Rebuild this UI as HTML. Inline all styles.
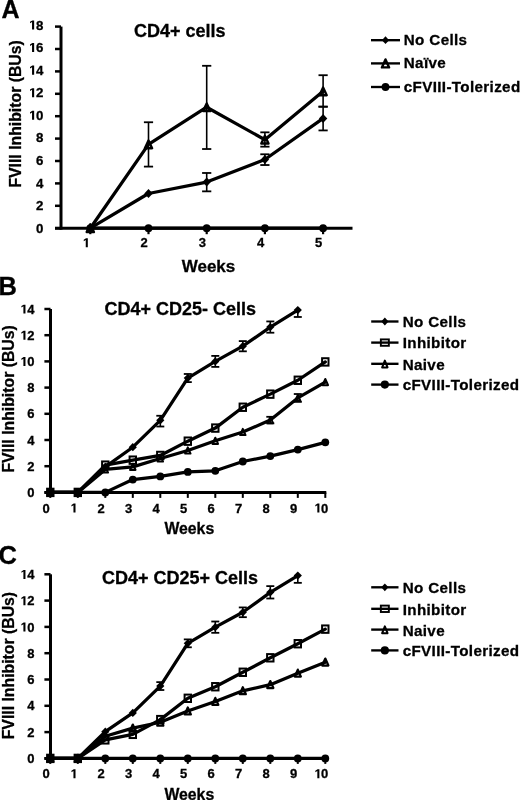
<!DOCTYPE html>
<html><head><meta charset="utf-8"><style>
html,body{margin:0;padding:0;background:#fff;width:520px;height:800px;overflow:hidden}
svg{display:block;will-change:transform}
text{font-family:"Liberation Sans", sans-serif;font-weight:bold;fill:#000;stroke:#000;stroke-width:0.3px}
</style></head><body>
<svg width="520" height="800" viewBox="0 0 520 800">
<text x="1.40" y="17.80" font-size="25" text-anchor="start" >A</text>
<text x="134.00" y="37.00" font-size="18" text-anchor="start" >CD4+ cells</text>
<text transform="translate(20.5,187.6) rotate(-90)" font-size="15.8">FVIII Inhibitor (BUs)</text>
<line x1="61.00" y1="26.60" x2="61.00" y2="229.70" stroke="#000" stroke-width="3.0" stroke-linecap="butt"/>
<line x1="55.00" y1="228.20" x2="61.00" y2="228.20" stroke="#000" stroke-width="2.5" stroke-linecap="butt"/>
<text x="35.90" y="232.75" font-size="13.3" text-anchor="start" >0</text>
<line x1="55.00" y1="205.80" x2="61.00" y2="205.80" stroke="#000" stroke-width="2.5" stroke-linecap="butt"/>
<text x="35.90" y="210.17" font-size="13.3" text-anchor="start" >2</text>
<line x1="55.00" y1="183.40" x2="61.00" y2="183.40" stroke="#000" stroke-width="2.5" stroke-linecap="butt"/>
<text x="35.90" y="187.59" font-size="13.3" text-anchor="start" >4</text>
<line x1="55.00" y1="161.00" x2="61.00" y2="161.00" stroke="#000" stroke-width="2.5" stroke-linecap="butt"/>
<text x="35.90" y="165.01" font-size="13.3" text-anchor="start" >6</text>
<line x1="55.00" y1="138.60" x2="61.00" y2="138.60" stroke="#000" stroke-width="2.5" stroke-linecap="butt"/>
<text x="35.90" y="142.43" font-size="13.3" text-anchor="start" >8</text>
<line x1="55.00" y1="116.20" x2="61.00" y2="116.20" stroke="#000" stroke-width="2.5" stroke-linecap="butt"/>
<path transform="translate(28.51,119.85) scale(0.00649,-0.00649)" d="M545 0L545 1150L230 955L230 1180L585 1409L870 1409L870 0Z"/>
<text x="35.90" y="119.85" font-size="13.3" text-anchor="start" >0</text>
<line x1="55.00" y1="93.80" x2="61.00" y2="93.80" stroke="#000" stroke-width="2.5" stroke-linecap="butt"/>
<path transform="translate(28.51,97.27) scale(0.00649,-0.00649)" d="M545 0L545 1150L230 955L230 1180L585 1409L870 1409L870 0Z"/>
<text x="35.90" y="97.27" font-size="13.3" text-anchor="start" >2</text>
<line x1="55.00" y1="71.40" x2="61.00" y2="71.40" stroke="#000" stroke-width="2.5" stroke-linecap="butt"/>
<path transform="translate(28.51,74.69) scale(0.00649,-0.00649)" d="M545 0L545 1150L230 955L230 1180L585 1409L870 1409L870 0Z"/>
<text x="35.90" y="74.69" font-size="13.3" text-anchor="start" >4</text>
<line x1="55.00" y1="49.00" x2="61.00" y2="49.00" stroke="#000" stroke-width="2.5" stroke-linecap="butt"/>
<path transform="translate(28.51,52.11) scale(0.00649,-0.00649)" d="M545 0L545 1150L230 955L230 1180L585 1409L870 1409L870 0Z"/>
<text x="35.90" y="52.11" font-size="13.3" text-anchor="start" >6</text>
<line x1="55.00" y1="26.60" x2="61.00" y2="26.60" stroke="#000" stroke-width="2.5" stroke-linecap="butt"/>
<path transform="translate(28.51,29.53) scale(0.00649,-0.00649)" d="M545 0L545 1150L230 955L230 1180L585 1409L870 1409L870 0Z"/>
<text x="35.90" y="29.53" font-size="13.3" text-anchor="start" >8</text>
<line x1="55.00" y1="228.20" x2="352.50" y2="228.20" stroke="#000" stroke-width="3.0" stroke-linecap="butt"/>
<line x1="90.30" y1="228.20" x2="90.30" y2="234.20" stroke="#000" stroke-width="2.2" stroke-linecap="butt"/>
<path transform="translate(82.29,247.30) scale(0.00635,-0.00635)" d="M545 0L545 1150L230 955L230 1180L585 1409L870 1409L870 0Z"/>
<line x1="148.50" y1="228.20" x2="148.50" y2="234.20" stroke="#000" stroke-width="2.2" stroke-linecap="butt"/>
<text x="140.49" y="247.30" font-size="13" text-anchor="start" >2</text>
<line x1="206.70" y1="228.20" x2="206.70" y2="234.20" stroke="#000" stroke-width="2.2" stroke-linecap="butt"/>
<text x="198.69" y="247.30" font-size="13" text-anchor="start" >3</text>
<line x1="264.90" y1="228.20" x2="264.90" y2="234.20" stroke="#000" stroke-width="2.2" stroke-linecap="butt"/>
<text x="256.89" y="247.30" font-size="13" text-anchor="start" >4</text>
<line x1="323.10" y1="228.20" x2="323.10" y2="234.20" stroke="#000" stroke-width="2.2" stroke-linecap="butt"/>
<text x="315.09" y="247.30" font-size="13" text-anchor="start" >5</text>
<text x="208.50" y="271.80" font-size="17" text-anchor="middle" >Weeks</text>
<line x1="148.50" y1="122.25" x2="148.50" y2="166.60" stroke="#000" stroke-width="1.6" stroke-linecap="butt"/>
<line x1="143.90" y1="122.25" x2="153.10" y2="122.25" stroke="#000" stroke-width="1.8" stroke-linecap="butt"/>
<line x1="143.90" y1="166.60" x2="153.10" y2="166.60" stroke="#000" stroke-width="1.8" stroke-linecap="butt"/>
<line x1="206.70" y1="65.80" x2="206.70" y2="149.02" stroke="#000" stroke-width="1.6" stroke-linecap="butt"/>
<line x1="202.10" y1="65.80" x2="211.30" y2="65.80" stroke="#000" stroke-width="1.8" stroke-linecap="butt"/>
<line x1="202.10" y1="149.02" x2="211.30" y2="149.02" stroke="#000" stroke-width="1.8" stroke-linecap="butt"/>
<line x1="264.90" y1="132.33" x2="264.90" y2="146.66" stroke="#000" stroke-width="1.6" stroke-linecap="butt"/>
<line x1="260.30" y1="132.33" x2="269.50" y2="132.33" stroke="#000" stroke-width="1.8" stroke-linecap="butt"/>
<line x1="260.30" y1="146.66" x2="269.50" y2="146.66" stroke="#000" stroke-width="1.8" stroke-linecap="butt"/>
<line x1="323.10" y1="75.21" x2="323.10" y2="106.68" stroke="#000" stroke-width="1.6" stroke-linecap="butt"/>
<line x1="318.50" y1="75.21" x2="327.70" y2="75.21" stroke="#000" stroke-width="1.8" stroke-linecap="butt"/>
<line x1="318.50" y1="106.68" x2="327.70" y2="106.68" stroke="#000" stroke-width="1.8" stroke-linecap="butt"/>
<line x1="206.70" y1="172.98" x2="206.70" y2="191.35" stroke="#000" stroke-width="1.6" stroke-linecap="butt"/>
<line x1="202.10" y1="172.98" x2="211.30" y2="172.98" stroke="#000" stroke-width="1.8" stroke-linecap="butt"/>
<line x1="202.10" y1="191.35" x2="211.30" y2="191.35" stroke="#000" stroke-width="1.8" stroke-linecap="butt"/>
<line x1="264.90" y1="154.28" x2="264.90" y2="165.03" stroke="#000" stroke-width="1.6" stroke-linecap="butt"/>
<line x1="260.30" y1="154.28" x2="269.50" y2="154.28" stroke="#000" stroke-width="1.8" stroke-linecap="butt"/>
<line x1="260.30" y1="165.03" x2="269.50" y2="165.03" stroke="#000" stroke-width="1.8" stroke-linecap="butt"/>
<line x1="323.10" y1="106.68" x2="323.10" y2="130.42" stroke="#000" stroke-width="1.6" stroke-linecap="butt"/>
<line x1="318.50" y1="106.68" x2="327.70" y2="106.68" stroke="#000" stroke-width="1.8" stroke-linecap="butt"/>
<line x1="318.50" y1="130.42" x2="327.70" y2="130.42" stroke="#000" stroke-width="1.8" stroke-linecap="butt"/>
<polyline points="90.30,228.20 148.50,228.20 206.70,228.20 264.90,228.20 323.10,228.20" fill="none" stroke="#000" stroke-width="3.25" stroke-linejoin="round" stroke-linecap="round"/>
<polyline points="90.30,228.20 148.50,193.48 206.70,182.06 264.90,159.54 323.10,118.44" fill="none" stroke="#000" stroke-width="3.25" stroke-linejoin="round" stroke-linecap="round"/>
<polyline points="90.30,228.20 148.50,144.42 206.70,107.24 264.90,139.72 323.10,91.34" fill="none" stroke="#000" stroke-width="3.25" stroke-linejoin="round" stroke-linecap="round"/>
<circle cx="90.30" cy="228.20" r="3.90" fill="#000"/>
<circle cx="148.50" cy="228.20" r="3.90" fill="#000"/>
<circle cx="206.70" cy="228.20" r="3.90" fill="#000"/>
<circle cx="264.90" cy="228.20" r="3.90" fill="#000"/>
<circle cx="323.10" cy="228.20" r="3.90" fill="#000"/>
<path d="M90.30 223.70L94.50 228.20L90.30 232.70L86.10 228.20Z" fill="#000"/>
<path d="M148.50 188.98L152.70 193.48L148.50 197.98L144.30 193.48Z" fill="#000"/>
<path d="M206.70 177.56L210.90 182.06L206.70 186.56L202.50 182.06Z" fill="#000"/>
<path d="M264.90 155.04L269.10 159.54L264.90 164.04L260.70 159.54Z" fill="#000"/>
<path d="M323.10 113.94L327.30 118.44L323.10 122.94L318.90 118.44Z" fill="#000"/>
<path d="M90.30 224.35L93.90 232.05L86.70 232.05Z" fill="none" stroke="#000" stroke-width="2.4" stroke-linejoin="round"/>
<path d="M148.50 140.57L152.10 148.27L144.90 148.27Z" fill="none" stroke="#000" stroke-width="2.4" stroke-linejoin="round"/>
<path d="M206.70 103.39L210.30 111.09L203.10 111.09Z" fill="none" stroke="#000" stroke-width="2.4" stroke-linejoin="round"/>
<path d="M264.90 135.87L268.50 143.57L261.30 143.57Z" fill="none" stroke="#000" stroke-width="2.4" stroke-linejoin="round"/>
<path d="M323.10 87.49L326.70 95.19L319.50 95.19Z" fill="none" stroke="#000" stroke-width="2.4" stroke-linejoin="round"/>
<line x1="371.00" y1="40.20" x2="400.00" y2="40.20" stroke="#000" stroke-width="2.35" stroke-linecap="butt"/>
<path d="M385.50 36.30L389.10 40.20L385.50 44.10L381.90 40.20Z" fill="#000"/>
<text x="403.80" y="44.94" font-size="15.2" text-anchor="start" letter-spacing="0.35">No Cells</text>
<line x1="371.00" y1="63.40" x2="400.00" y2="63.40" stroke="#000" stroke-width="2.35" stroke-linecap="butt"/>
<path d="M385.50 59.40L389.10 67.40L381.90 67.40Z" fill="none" stroke="#000" stroke-width="2.4" stroke-linejoin="round"/>
<text x="403.80" y="68.14" font-size="15.2" text-anchor="start" letter-spacing="0.35">Na&#239;ve</text>
<line x1="371.00" y1="87.00" x2="400.00" y2="87.00" stroke="#000" stroke-width="2.35" stroke-linecap="butt"/>
<circle cx="385.50" cy="87.00" r="3.90" fill="#000"/>
<text x="403.80" y="91.74" font-size="15.2" text-anchor="start" letter-spacing="0.35">cFVIII-Tolerized</text>
<text x="-1.50" y="295.00" font-size="25.5" text-anchor="start" >B</text>
<text x="104.50" y="314.80" font-size="18" text-anchor="start" >CD4+ CD25- Cells</text>
<text transform="translate(13.6,472.6) rotate(-90)" font-size="15.8">FVIII Inhibitor (BUs)</text>
<line x1="50.50" y1="309.00" x2="50.50" y2="493.90" stroke="#000" stroke-width="3.0" stroke-linecap="butt"/>
<line x1="44.40" y1="492.40" x2="50.50" y2="492.40" stroke="#000" stroke-width="2.5" stroke-linecap="butt"/>
<text x="27.17" y="497.00" font-size="13" text-anchor="start" >0</text>
<line x1="44.40" y1="466.20" x2="50.50" y2="466.20" stroke="#000" stroke-width="2.5" stroke-linecap="butt"/>
<text x="27.17" y="470.80" font-size="13" text-anchor="start" >2</text>
<line x1="44.40" y1="440.00" x2="50.50" y2="440.00" stroke="#000" stroke-width="2.5" stroke-linecap="butt"/>
<text x="27.17" y="444.60" font-size="13" text-anchor="start" >4</text>
<line x1="44.40" y1="413.80" x2="50.50" y2="413.80" stroke="#000" stroke-width="2.5" stroke-linecap="butt"/>
<text x="27.17" y="418.40" font-size="13" text-anchor="start" >6</text>
<line x1="44.40" y1="387.60" x2="50.50" y2="387.60" stroke="#000" stroke-width="2.5" stroke-linecap="butt"/>
<text x="27.17" y="392.20" font-size="13" text-anchor="start" >8</text>
<line x1="44.40" y1="361.40" x2="50.50" y2="361.40" stroke="#000" stroke-width="2.5" stroke-linecap="butt"/>
<path transform="translate(19.94,366.00) scale(0.00635,-0.00635)" d="M545 0L545 1150L230 955L230 1180L585 1409L870 1409L870 0Z"/>
<text x="27.17" y="366.00" font-size="13" text-anchor="start" >0</text>
<line x1="44.40" y1="335.20" x2="50.50" y2="335.20" stroke="#000" stroke-width="2.5" stroke-linecap="butt"/>
<path transform="translate(19.94,339.80) scale(0.00635,-0.00635)" d="M545 0L545 1150L230 955L230 1180L585 1409L870 1409L870 0Z"/>
<text x="27.17" y="339.80" font-size="13" text-anchor="start" >2</text>
<line x1="44.40" y1="309.00" x2="50.50" y2="309.00" stroke="#000" stroke-width="2.5" stroke-linecap="butt"/>
<path transform="translate(19.94,313.60) scale(0.00635,-0.00635)" d="M545 0L545 1150L230 955L230 1180L585 1409L870 1409L870 0Z"/>
<text x="27.17" y="313.60" font-size="13" text-anchor="start" >4</text>
<line x1="44.40" y1="492.40" x2="326.30" y2="492.40" stroke="#000" stroke-width="3.0" stroke-linecap="butt"/>
<line x1="50.30" y1="492.40" x2="50.30" y2="497.90" stroke="#000" stroke-width="2" stroke-linecap="butt"/>
<text x="42.49" y="512.50" font-size="13" text-anchor="start" >0</text>
<line x1="77.80" y1="492.40" x2="77.80" y2="497.90" stroke="#000" stroke-width="2" stroke-linecap="butt"/>
<path transform="translate(69.99,512.50) scale(0.00635,-0.00635)" d="M545 0L545 1150L230 955L230 1180L585 1409L870 1409L870 0Z"/>
<line x1="105.30" y1="492.40" x2="105.30" y2="497.90" stroke="#000" stroke-width="2" stroke-linecap="butt"/>
<text x="97.49" y="512.50" font-size="13" text-anchor="start" >2</text>
<line x1="132.80" y1="492.40" x2="132.80" y2="497.90" stroke="#000" stroke-width="2" stroke-linecap="butt"/>
<text x="124.99" y="512.50" font-size="13" text-anchor="start" >3</text>
<line x1="160.30" y1="492.40" x2="160.30" y2="497.90" stroke="#000" stroke-width="2" stroke-linecap="butt"/>
<text x="152.49" y="512.50" font-size="13" text-anchor="start" >4</text>
<line x1="187.80" y1="492.40" x2="187.80" y2="497.90" stroke="#000" stroke-width="2" stroke-linecap="butt"/>
<text x="179.99" y="512.50" font-size="13" text-anchor="start" >5</text>
<line x1="215.30" y1="492.40" x2="215.30" y2="497.90" stroke="#000" stroke-width="2" stroke-linecap="butt"/>
<text x="207.49" y="512.50" font-size="13" text-anchor="start" >6</text>
<line x1="242.80" y1="492.40" x2="242.80" y2="497.90" stroke="#000" stroke-width="2" stroke-linecap="butt"/>
<text x="234.99" y="512.50" font-size="13" text-anchor="start" >7</text>
<line x1="270.30" y1="492.40" x2="270.30" y2="497.90" stroke="#000" stroke-width="2" stroke-linecap="butt"/>
<text x="262.49" y="512.50" font-size="13" text-anchor="start" >8</text>
<line x1="297.80" y1="492.40" x2="297.80" y2="497.90" stroke="#000" stroke-width="2" stroke-linecap="butt"/>
<text x="289.99" y="512.50" font-size="13" text-anchor="start" >9</text>
<line x1="325.30" y1="492.40" x2="325.30" y2="497.90" stroke="#000" stroke-width="2" stroke-linecap="butt"/>
<path transform="translate(313.87,512.50) scale(0.00635,-0.00635)" d="M545 0L545 1150L230 955L230 1180L585 1409L870 1409L870 0Z"/>
<text x="321.10" y="512.50" font-size="13" text-anchor="start" >0</text>
<text x="189.30" y="534.20" font-size="15.8" text-anchor="middle" >Weeks</text>
<line x1="160.30" y1="415.76" x2="160.30" y2="426.51" stroke="#000" stroke-width="1.6" stroke-linecap="butt"/>
<line x1="156.30" y1="415.76" x2="164.30" y2="415.76" stroke="#000" stroke-width="1.8" stroke-linecap="butt"/>
<line x1="156.30" y1="426.51" x2="164.30" y2="426.51" stroke="#000" stroke-width="1.8" stroke-linecap="butt"/>
<line x1="187.80" y1="373.98" x2="187.80" y2="382.10" stroke="#000" stroke-width="1.6" stroke-linecap="butt"/>
<line x1="183.80" y1="373.98" x2="191.80" y2="373.98" stroke="#000" stroke-width="1.8" stroke-linecap="butt"/>
<line x1="183.80" y1="382.10" x2="191.80" y2="382.10" stroke="#000" stroke-width="1.8" stroke-linecap="butt"/>
<line x1="215.30" y1="355.90" x2="215.30" y2="366.90" stroke="#000" stroke-width="1.6" stroke-linecap="butt"/>
<line x1="211.30" y1="355.90" x2="219.30" y2="355.90" stroke="#000" stroke-width="1.8" stroke-linecap="butt"/>
<line x1="211.30" y1="366.90" x2="219.30" y2="366.90" stroke="#000" stroke-width="1.8" stroke-linecap="butt"/>
<line x1="242.80" y1="341.09" x2="242.80" y2="351.31" stroke="#000" stroke-width="1.6" stroke-linecap="butt"/>
<line x1="238.80" y1="341.09" x2="246.80" y2="341.09" stroke="#000" stroke-width="1.8" stroke-linecap="butt"/>
<line x1="238.80" y1="351.31" x2="246.80" y2="351.31" stroke="#000" stroke-width="1.8" stroke-linecap="butt"/>
<line x1="270.30" y1="321.44" x2="270.30" y2="332.71" stroke="#000" stroke-width="1.6" stroke-linecap="butt"/>
<line x1="266.30" y1="321.44" x2="274.30" y2="321.44" stroke="#000" stroke-width="1.8" stroke-linecap="butt"/>
<line x1="266.30" y1="332.71" x2="274.30" y2="332.71" stroke="#000" stroke-width="1.8" stroke-linecap="butt"/>
<line x1="297.80" y1="309.00" x2="297.80" y2="316.99" stroke="#000" stroke-width="1.6" stroke-linecap="butt"/>
<line x1="293.80" y1="316.99" x2="301.80" y2="316.99" stroke="#000" stroke-width="1.8" stroke-linecap="butt"/>
<line x1="270.30" y1="416.81" x2="270.30" y2="423.36" stroke="#000" stroke-width="1.6" stroke-linecap="butt"/>
<line x1="266.30" y1="416.81" x2="274.30" y2="416.81" stroke="#000" stroke-width="1.8" stroke-linecap="butt"/>
<line x1="266.30" y1="423.36" x2="274.30" y2="423.36" stroke="#000" stroke-width="1.8" stroke-linecap="butt"/>
<line x1="297.80" y1="394.02" x2="297.80" y2="401.88" stroke="#000" stroke-width="1.6" stroke-linecap="butt"/>
<line x1="293.80" y1="394.02" x2="301.80" y2="394.02" stroke="#000" stroke-width="1.8" stroke-linecap="butt"/>
<line x1="293.80" y1="401.88" x2="301.80" y2="401.88" stroke="#000" stroke-width="1.8" stroke-linecap="butt"/>
<polyline points="50.30,492.40 77.80,492.40 105.30,492.40 132.80,479.56 160.30,476.42 187.80,471.96 215.30,470.78 242.80,461.48 270.30,456.11 297.80,449.56 325.30,442.36" fill="none" stroke="#000" stroke-width="3.25" stroke-linejoin="round" stroke-linecap="round"/>
<polyline points="50.30,492.40 77.80,492.40 105.30,469.47 132.80,466.85 160.30,458.47 187.80,450.48 215.30,440.79 242.80,432.01 270.30,420.09 297.80,397.95 325.30,382.10" fill="none" stroke="#000" stroke-width="3.25" stroke-linejoin="round" stroke-linecap="round"/>
<polyline points="50.30,492.40 77.80,492.40 105.30,465.15 132.80,460.17 160.30,455.46 187.80,441.18 215.30,428.08 242.80,407.25 270.30,394.15 297.80,380.26 325.30,361.92" fill="none" stroke="#000" stroke-width="3.25" stroke-linejoin="round" stroke-linecap="round"/>
<polyline points="50.30,492.40 77.80,492.40 105.30,466.85 132.80,447.20 160.30,420.35 187.80,378.04 215.30,361.40 242.80,346.20 270.30,327.08 297.80,310.05" fill="none" stroke="#000" stroke-width="3.25" stroke-linejoin="round" stroke-linecap="round"/>
<circle cx="50.30" cy="492.40" r="3.90" fill="#000"/>
<circle cx="77.80" cy="492.40" r="3.90" fill="#000"/>
<circle cx="105.30" cy="492.40" r="3.90" fill="#000"/>
<circle cx="132.80" cy="479.56" r="3.90" fill="#000"/>
<circle cx="160.30" cy="476.42" r="3.90" fill="#000"/>
<circle cx="187.80" cy="471.96" r="3.90" fill="#000"/>
<circle cx="215.30" cy="470.78" r="3.90" fill="#000"/>
<circle cx="242.80" cy="461.48" r="3.90" fill="#000"/>
<circle cx="270.30" cy="456.11" r="3.90" fill="#000"/>
<circle cx="297.80" cy="449.56" r="3.90" fill="#000"/>
<circle cx="325.30" cy="442.36" r="3.90" fill="#000"/>
<path d="M50.30 489.30L53.05 495.50L47.55 495.50Z" fill="none" stroke="#000" stroke-width="2.0" stroke-linejoin="round"/>
<path d="M77.80 489.30L80.55 495.50L75.05 495.50Z" fill="none" stroke="#000" stroke-width="2.0" stroke-linejoin="round"/>
<path d="M105.30 466.37L108.05 472.57L102.55 472.57Z" fill="none" stroke="#000" stroke-width="2.0" stroke-linejoin="round"/>
<path d="M132.80 463.75L135.55 469.95L130.05 469.95Z" fill="none" stroke="#000" stroke-width="2.0" stroke-linejoin="round"/>
<path d="M160.30 455.37L163.05 461.57L157.55 461.57Z" fill="none" stroke="#000" stroke-width="2.0" stroke-linejoin="round"/>
<path d="M187.80 447.38L190.55 453.58L185.05 453.58Z" fill="none" stroke="#000" stroke-width="2.0" stroke-linejoin="round"/>
<path d="M215.30 437.69L218.05 443.89L212.55 443.89Z" fill="none" stroke="#000" stroke-width="2.0" stroke-linejoin="round"/>
<path d="M242.80 428.91L245.55 435.11L240.05 435.11Z" fill="none" stroke="#000" stroke-width="2.0" stroke-linejoin="round"/>
<path d="M270.30 416.99L273.05 423.19L267.55 423.19Z" fill="none" stroke="#000" stroke-width="2.0" stroke-linejoin="round"/>
<path d="M297.80 394.85L300.55 401.05L295.05 401.05Z" fill="none" stroke="#000" stroke-width="2.0" stroke-linejoin="round"/>
<path d="M325.30 379.00L328.05 385.20L322.55 385.20Z" fill="none" stroke="#000" stroke-width="2.0" stroke-linejoin="round"/>
<rect x="47.10" y="488.70" width="6.40" height="7.40" fill="none" stroke="#000" stroke-width="2"/>
<rect x="74.60" y="488.70" width="6.40" height="7.40" fill="none" stroke="#000" stroke-width="2"/>
<rect x="102.10" y="461.45" width="6.40" height="7.40" fill="none" stroke="#000" stroke-width="2"/>
<rect x="129.60" y="456.47" width="6.40" height="7.40" fill="none" stroke="#000" stroke-width="2"/>
<rect x="157.10" y="451.76" width="6.40" height="7.40" fill="none" stroke="#000" stroke-width="2"/>
<rect x="184.60" y="437.48" width="6.40" height="7.40" fill="none" stroke="#000" stroke-width="2"/>
<rect x="212.10" y="424.38" width="6.40" height="7.40" fill="none" stroke="#000" stroke-width="2"/>
<rect x="239.60" y="403.55" width="6.40" height="7.40" fill="none" stroke="#000" stroke-width="2"/>
<rect x="267.10" y="390.45" width="6.40" height="7.40" fill="none" stroke="#000" stroke-width="2"/>
<rect x="294.60" y="376.56" width="6.40" height="7.40" fill="none" stroke="#000" stroke-width="2"/>
<rect x="322.10" y="358.22" width="6.40" height="7.40" fill="none" stroke="#000" stroke-width="2"/>
<path d="M50.30 488.30L54.40 492.40L50.30 496.50L46.20 492.40Z" fill="#000"/>
<path d="M77.80 488.30L81.90 492.40L77.80 496.50L73.70 492.40Z" fill="#000"/>
<path d="M105.30 462.75L109.40 466.85L105.30 470.95L101.20 466.85Z" fill="#000"/>
<path d="M132.80 443.10L136.90 447.20L132.80 451.31L128.70 447.20Z" fill="#000"/>
<path d="M160.30 416.25L164.40 420.35L160.30 424.45L156.20 420.35Z" fill="#000"/>
<path d="M187.80 373.94L191.90 378.04L187.80 382.14L183.70 378.04Z" fill="#000"/>
<path d="M215.30 357.30L219.40 361.40L215.30 365.50L211.20 361.40Z" fill="#000"/>
<path d="M242.80 342.10L246.90 346.20L242.80 350.30L238.70 346.20Z" fill="#000"/>
<path d="M270.30 322.98L274.40 327.08L270.30 331.18L266.20 327.08Z" fill="#000"/>
<path d="M297.80 305.95L301.90 310.05L297.80 314.15L293.70 310.05Z" fill="#000"/>
<line x1="371.20" y1="321.50" x2="398.50" y2="321.50" stroke="#000" stroke-width="2.35" stroke-linecap="butt"/>
<path d="M384.85 317.60L388.45 321.50L384.85 325.40L381.25 321.50Z" fill="#000"/>
<text x="402.70" y="327.34" font-size="15.2" text-anchor="start" letter-spacing="0.35">No Cells</text>
<line x1="371.20" y1="342.60" x2="398.50" y2="342.60" stroke="#000" stroke-width="2.35" stroke-linecap="butt"/>
<rect x="380.85" y="339.40" width="8.00" height="6.40" fill="none" stroke="#000" stroke-width="1.9"/>
<text x="402.70" y="348.44" font-size="15.2" text-anchor="start" letter-spacing="0.35">Inhibitor</text>
<line x1="371.20" y1="363.80" x2="398.50" y2="363.80" stroke="#000" stroke-width="2.35" stroke-linecap="butt"/>
<path d="M384.85 360.60L387.55 367.40L382.15 367.40Z" fill="none" stroke="#000" stroke-width="2.0" stroke-linejoin="round"/>
<text x="402.70" y="369.64" font-size="15.2" text-anchor="start" letter-spacing="0.35">Naive</text>
<line x1="371.20" y1="384.60" x2="398.50" y2="384.60" stroke="#000" stroke-width="2.35" stroke-linecap="butt"/>
<circle cx="384.85" cy="384.60" r="4.09" fill="#000"/>
<text x="402.70" y="390.44" font-size="15.2" text-anchor="start" letter-spacing="0.35">cFVIII-Tolerized</text>
<text x="-1.50" y="563.90" font-size="25.5" text-anchor="start" >C</text>
<text x="102.00" y="584.00" font-size="18" text-anchor="start" >CD4+ CD25+ Cells</text>
<text transform="translate(14.4,739.3) rotate(-90)" font-size="15.8">FVIII Inhibitor (BUs)</text>
<line x1="50.50" y1="574.30" x2="50.50" y2="759.90" stroke="#000" stroke-width="3.0" stroke-linecap="butt"/>
<line x1="44.40" y1="758.40" x2="50.50" y2="758.40" stroke="#000" stroke-width="2.5" stroke-linecap="butt"/>
<text x="27.17" y="763.00" font-size="13" text-anchor="start" >0</text>
<line x1="44.40" y1="732.10" x2="50.50" y2="732.10" stroke="#000" stroke-width="2.5" stroke-linecap="butt"/>
<text x="27.17" y="736.70" font-size="13" text-anchor="start" >2</text>
<line x1="44.40" y1="705.80" x2="50.50" y2="705.80" stroke="#000" stroke-width="2.5" stroke-linecap="butt"/>
<text x="27.17" y="710.40" font-size="13" text-anchor="start" >4</text>
<line x1="44.40" y1="679.50" x2="50.50" y2="679.50" stroke="#000" stroke-width="2.5" stroke-linecap="butt"/>
<text x="27.17" y="684.10" font-size="13" text-anchor="start" >6</text>
<line x1="44.40" y1="653.20" x2="50.50" y2="653.20" stroke="#000" stroke-width="2.5" stroke-linecap="butt"/>
<text x="27.17" y="657.80" font-size="13" text-anchor="start" >8</text>
<line x1="44.40" y1="626.90" x2="50.50" y2="626.90" stroke="#000" stroke-width="2.5" stroke-linecap="butt"/>
<path transform="translate(19.94,631.50) scale(0.00635,-0.00635)" d="M545 0L545 1150L230 955L230 1180L585 1409L870 1409L870 0Z"/>
<text x="27.17" y="631.50" font-size="13" text-anchor="start" >0</text>
<line x1="44.40" y1="600.60" x2="50.50" y2="600.60" stroke="#000" stroke-width="2.5" stroke-linecap="butt"/>
<path transform="translate(19.94,605.20) scale(0.00635,-0.00635)" d="M545 0L545 1150L230 955L230 1180L585 1409L870 1409L870 0Z"/>
<text x="27.17" y="605.20" font-size="13" text-anchor="start" >2</text>
<line x1="44.40" y1="574.30" x2="50.50" y2="574.30" stroke="#000" stroke-width="2.5" stroke-linecap="butt"/>
<path transform="translate(19.94,578.90) scale(0.00635,-0.00635)" d="M545 0L545 1150L230 955L230 1180L585 1409L870 1409L870 0Z"/>
<text x="27.17" y="578.90" font-size="13" text-anchor="start" >4</text>
<line x1="44.40" y1="758.40" x2="326.30" y2="758.40" stroke="#000" stroke-width="3.0" stroke-linecap="butt"/>
<line x1="50.30" y1="758.40" x2="50.30" y2="763.90" stroke="#000" stroke-width="2" stroke-linecap="butt"/>
<text x="42.49" y="778.20" font-size="13" text-anchor="start" >0</text>
<line x1="77.80" y1="758.40" x2="77.80" y2="763.90" stroke="#000" stroke-width="2" stroke-linecap="butt"/>
<path transform="translate(69.99,778.20) scale(0.00635,-0.00635)" d="M545 0L545 1150L230 955L230 1180L585 1409L870 1409L870 0Z"/>
<line x1="105.30" y1="758.40" x2="105.30" y2="763.90" stroke="#000" stroke-width="2" stroke-linecap="butt"/>
<text x="97.49" y="778.20" font-size="13" text-anchor="start" >2</text>
<line x1="132.80" y1="758.40" x2="132.80" y2="763.90" stroke="#000" stroke-width="2" stroke-linecap="butt"/>
<text x="124.99" y="778.20" font-size="13" text-anchor="start" >3</text>
<line x1="160.30" y1="758.40" x2="160.30" y2="763.90" stroke="#000" stroke-width="2" stroke-linecap="butt"/>
<text x="152.49" y="778.20" font-size="13" text-anchor="start" >4</text>
<line x1="187.80" y1="758.40" x2="187.80" y2="763.90" stroke="#000" stroke-width="2" stroke-linecap="butt"/>
<text x="179.99" y="778.20" font-size="13" text-anchor="start" >5</text>
<line x1="215.30" y1="758.40" x2="215.30" y2="763.90" stroke="#000" stroke-width="2" stroke-linecap="butt"/>
<text x="207.49" y="778.20" font-size="13" text-anchor="start" >6</text>
<line x1="242.80" y1="758.40" x2="242.80" y2="763.90" stroke="#000" stroke-width="2" stroke-linecap="butt"/>
<text x="234.99" y="778.20" font-size="13" text-anchor="start" >7</text>
<line x1="270.30" y1="758.40" x2="270.30" y2="763.90" stroke="#000" stroke-width="2" stroke-linecap="butt"/>
<text x="262.49" y="778.20" font-size="13" text-anchor="start" >8</text>
<line x1="297.80" y1="758.40" x2="297.80" y2="763.90" stroke="#000" stroke-width="2" stroke-linecap="butt"/>
<text x="289.99" y="778.20" font-size="13" text-anchor="start" >9</text>
<line x1="325.30" y1="758.40" x2="325.30" y2="763.90" stroke="#000" stroke-width="2" stroke-linecap="butt"/>
<path transform="translate(313.87,778.20) scale(0.00635,-0.00635)" d="M545 0L545 1150L230 955L230 1180L585 1409L870 1409L870 0Z"/>
<text x="321.10" y="778.20" font-size="13" text-anchor="start" >0</text>
<text x="189.30" y="799.90" font-size="15.8" text-anchor="middle" >Weeks</text>
<line x1="160.30" y1="682.13" x2="160.30" y2="690.02" stroke="#000" stroke-width="1.6" stroke-linecap="butt"/>
<line x1="156.30" y1="682.13" x2="164.30" y2="682.13" stroke="#000" stroke-width="1.8" stroke-linecap="butt"/>
<line x1="156.30" y1="690.02" x2="164.30" y2="690.02" stroke="#000" stroke-width="1.8" stroke-linecap="butt"/>
<line x1="187.80" y1="639.39" x2="187.80" y2="647.28" stroke="#000" stroke-width="1.6" stroke-linecap="butt"/>
<line x1="183.80" y1="639.39" x2="191.80" y2="639.39" stroke="#000" stroke-width="1.8" stroke-linecap="butt"/>
<line x1="183.80" y1="647.28" x2="191.80" y2="647.28" stroke="#000" stroke-width="1.8" stroke-linecap="butt"/>
<line x1="215.30" y1="621.51" x2="215.30" y2="632.82" stroke="#000" stroke-width="1.6" stroke-linecap="butt"/>
<line x1="211.30" y1="621.51" x2="219.30" y2="621.51" stroke="#000" stroke-width="1.8" stroke-linecap="butt"/>
<line x1="211.30" y1="632.82" x2="219.30" y2="632.82" stroke="#000" stroke-width="1.8" stroke-linecap="butt"/>
<line x1="242.80" y1="607.44" x2="242.80" y2="617.17" stroke="#000" stroke-width="1.6" stroke-linecap="butt"/>
<line x1="238.80" y1="607.44" x2="246.80" y2="607.44" stroke="#000" stroke-width="1.8" stroke-linecap="butt"/>
<line x1="238.80" y1="617.17" x2="246.80" y2="617.17" stroke="#000" stroke-width="1.8" stroke-linecap="butt"/>
<line x1="270.30" y1="586.13" x2="270.30" y2="598.50" stroke="#000" stroke-width="1.6" stroke-linecap="butt"/>
<line x1="266.30" y1="586.13" x2="274.30" y2="586.13" stroke="#000" stroke-width="1.8" stroke-linecap="butt"/>
<line x1="266.30" y1="598.50" x2="274.30" y2="598.50" stroke="#000" stroke-width="1.8" stroke-linecap="butt"/>
<line x1="297.80" y1="574.30" x2="297.80" y2="582.85" stroke="#000" stroke-width="1.6" stroke-linecap="butt"/>
<line x1="293.80" y1="582.85" x2="301.80" y2="582.85" stroke="#000" stroke-width="1.8" stroke-linecap="butt"/>
<polyline points="50.30,758.40 77.80,758.40 105.30,758.40 132.80,758.40 160.30,758.40 187.80,758.40 215.30,758.40 242.80,758.40 270.30,758.40 297.80,758.40 325.30,758.40" fill="none" stroke="#000" stroke-width="3.25" stroke-linejoin="round" stroke-linecap="round"/>
<polyline points="50.30,758.40 77.80,758.40 105.30,736.31 132.80,728.15 160.30,722.24 187.80,711.06 215.30,701.46 242.80,690.81 270.30,684.63 297.80,673.19 325.30,662.14" fill="none" stroke="#000" stroke-width="3.25" stroke-linejoin="round" stroke-linecap="round"/>
<polyline points="50.30,758.40 77.80,758.40 105.30,739.86 132.80,734.34 160.30,719.61 187.80,698.30 215.30,686.73 242.80,672.27 270.30,657.80 297.80,643.73 325.30,629.14" fill="none" stroke="#000" stroke-width="3.25" stroke-linejoin="round" stroke-linecap="round"/>
<polyline points="50.30,758.40 77.80,758.40 105.30,731.71 132.80,712.90 160.30,686.07 187.80,643.34 215.30,627.16 242.80,612.30 270.30,592.32 297.80,575.62" fill="none" stroke="#000" stroke-width="3.25" stroke-linejoin="round" stroke-linecap="round"/>
<circle cx="50.30" cy="758.40" r="3.90" fill="#000"/>
<circle cx="77.80" cy="758.40" r="3.90" fill="#000"/>
<circle cx="105.30" cy="758.40" r="3.90" fill="#000"/>
<circle cx="132.80" cy="758.40" r="3.90" fill="#000"/>
<circle cx="160.30" cy="758.40" r="3.90" fill="#000"/>
<circle cx="187.80" cy="758.40" r="3.90" fill="#000"/>
<circle cx="215.30" cy="758.40" r="3.90" fill="#000"/>
<circle cx="242.80" cy="758.40" r="3.90" fill="#000"/>
<circle cx="270.30" cy="758.40" r="3.90" fill="#000"/>
<circle cx="297.80" cy="758.40" r="3.90" fill="#000"/>
<circle cx="325.30" cy="758.40" r="3.90" fill="#000"/>
<path d="M50.30 754.80L53.40 761.80L47.20 761.80Z" fill="none" stroke="#000" stroke-width="2.2" stroke-linejoin="round"/>
<path d="M77.80 754.80L80.90 761.80L74.70 761.80Z" fill="none" stroke="#000" stroke-width="2.2" stroke-linejoin="round"/>
<path d="M105.30 732.71L108.40 739.71L102.20 739.71Z" fill="none" stroke="#000" stroke-width="2.2" stroke-linejoin="round"/>
<path d="M132.80 724.55L135.90 731.55L129.70 731.55Z" fill="none" stroke="#000" stroke-width="2.2" stroke-linejoin="round"/>
<path d="M160.30 718.64L163.40 725.64L157.20 725.64Z" fill="none" stroke="#000" stroke-width="2.2" stroke-linejoin="round"/>
<path d="M187.80 707.46L190.90 714.46L184.70 714.46Z" fill="none" stroke="#000" stroke-width="2.2" stroke-linejoin="round"/>
<path d="M215.30 697.86L218.40 704.86L212.20 704.86Z" fill="none" stroke="#000" stroke-width="2.2" stroke-linejoin="round"/>
<path d="M242.80 687.21L245.90 694.21L239.70 694.21Z" fill="none" stroke="#000" stroke-width="2.2" stroke-linejoin="round"/>
<path d="M270.30 681.03L273.40 688.03L267.20 688.03Z" fill="none" stroke="#000" stroke-width="2.2" stroke-linejoin="round"/>
<path d="M297.80 669.59L300.90 676.59L294.70 676.59Z" fill="none" stroke="#000" stroke-width="2.2" stroke-linejoin="round"/>
<path d="M325.30 658.54L328.40 665.54L322.20 665.54Z" fill="none" stroke="#000" stroke-width="2.2" stroke-linejoin="round"/>
<rect x="47.10" y="754.70" width="6.40" height="7.40" fill="none" stroke="#000" stroke-width="2"/>
<rect x="74.60" y="754.70" width="6.40" height="7.40" fill="none" stroke="#000" stroke-width="2"/>
<rect x="102.10" y="736.16" width="6.40" height="7.40" fill="none" stroke="#000" stroke-width="2"/>
<rect x="129.60" y="730.64" width="6.40" height="7.40" fill="none" stroke="#000" stroke-width="2"/>
<rect x="157.10" y="715.91" width="6.40" height="7.40" fill="none" stroke="#000" stroke-width="2"/>
<rect x="184.60" y="694.60" width="6.40" height="7.40" fill="none" stroke="#000" stroke-width="2"/>
<rect x="212.10" y="683.03" width="6.40" height="7.40" fill="none" stroke="#000" stroke-width="2"/>
<rect x="239.60" y="668.57" width="6.40" height="7.40" fill="none" stroke="#000" stroke-width="2"/>
<rect x="267.10" y="654.10" width="6.40" height="7.40" fill="none" stroke="#000" stroke-width="2"/>
<rect x="294.60" y="640.03" width="6.40" height="7.40" fill="none" stroke="#000" stroke-width="2"/>
<rect x="322.10" y="625.44" width="6.40" height="7.40" fill="none" stroke="#000" stroke-width="2"/>
<path d="M50.30 754.30L54.40 758.40L50.30 762.50L46.20 758.40Z" fill="#000"/>
<path d="M77.80 754.30L81.90 758.40L77.80 762.50L73.70 758.40Z" fill="#000"/>
<path d="M105.30 727.61L109.40 731.71L105.30 735.81L101.20 731.71Z" fill="#000"/>
<path d="M132.80 708.80L136.90 712.90L132.80 717.00L128.70 712.90Z" fill="#000"/>
<path d="M160.30 681.97L164.40 686.07L160.30 690.17L156.20 686.07Z" fill="#000"/>
<path d="M187.80 639.24L191.90 643.34L187.80 647.44L183.70 643.34Z" fill="#000"/>
<path d="M215.30 623.06L219.40 627.16L215.30 631.26L211.20 627.16Z" fill="#000"/>
<path d="M242.80 608.20L246.90 612.30L242.80 616.40L238.70 612.30Z" fill="#000"/>
<path d="M270.30 588.22L274.40 592.32L270.30 596.42L266.20 592.32Z" fill="#000"/>
<path d="M297.80 571.51L301.90 575.62L297.80 579.72L293.70 575.62Z" fill="#000"/>
<line x1="371.20" y1="587.30" x2="398.50" y2="587.30" stroke="#000" stroke-width="2.35" stroke-linecap="butt"/>
<path d="M384.85 583.40L388.45 587.30L384.85 591.20L381.25 587.30Z" fill="#000"/>
<text x="402.70" y="593.34" font-size="15.2" text-anchor="start" letter-spacing="0.35">No Cells</text>
<line x1="371.20" y1="608.80" x2="398.50" y2="608.80" stroke="#000" stroke-width="2.35" stroke-linecap="butt"/>
<rect x="380.85" y="605.60" width="8.00" height="6.40" fill="none" stroke="#000" stroke-width="1.9"/>
<text x="402.70" y="614.84" font-size="15.2" text-anchor="start" letter-spacing="0.35">Inhibitor</text>
<line x1="371.20" y1="629.60" x2="398.50" y2="629.60" stroke="#000" stroke-width="2.35" stroke-linecap="butt"/>
<path d="M384.85 626.40L387.55 633.20L382.15 633.20Z" fill="none" stroke="#000" stroke-width="2.0" stroke-linejoin="round"/>
<text x="402.70" y="635.64" font-size="15.2" text-anchor="start" letter-spacing="0.35">Naive</text>
<line x1="371.20" y1="650.40" x2="398.50" y2="650.40" stroke="#000" stroke-width="2.35" stroke-linecap="butt"/>
<circle cx="384.85" cy="650.40" r="4.09" fill="#000"/>
<text x="402.70" y="656.44" font-size="15.2" text-anchor="start" letter-spacing="0.35">cFVIII-Tolerized</text>
</svg>
</body></html>
